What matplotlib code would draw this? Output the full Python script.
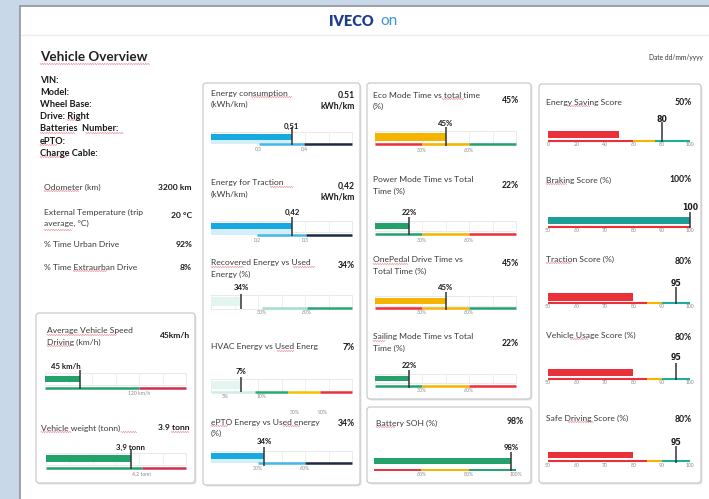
import numpy as np
import matplotlib
matplotlib.use("Agg")
import matplotlib.pyplot as plt
from matplotlib.patches import Rectangle, FancyBboxPatch

plt.rcParams['font.family'] = ['Lato', 'DejaVu Sans']

# ---------------- data ----------------
info_labels = ["VIN:", "Model:", "Wheel Base:", "Drive: Right", "Batteries  Number:", "ePTO:", "Charge Cable:"]
trip_labels = [["Odometer (km)"], ["External Temperature (trip", "average, °C)"], ["% Time Urban Drive"], ["% Time Extraurban Drive"]]
trip_values = ["3200 km", "20 °C", "92%", "8%"]

speed_value = 45
speed_range = (0, 180)
speed_limit = 120
weight_value = 3.9
weight_range = (1.6, 5.4)
weight_limit = 4.2

energy_titles = [["Energy consumption", "(kWh/km)"], ["Energy for Traction", "(kWh/km)"],
                 ["Recovered Energy vs Used", "Energy (%)"], ["HVAC Energy vs Used Energ"],
                 ["ePTO Energy vs Used energy", "(%)"]]
energy_value_text = [["0.51", "kWh/km"], ["0,42", "kWh/km"], ["34%"], ["7%"], ["34%"]]
energy_values = [0.51, 0.42, 34, 7, 34]
energy_labels = ["0,51", "0,42", "34%", "7%", "34%"]
energy_ranges = [(0, 0.89), (0, 0.73), (0, 160), (0, 32.9), (0, 90)]
energy_bounds = [[0.30, 0.59, 0.89], [0.24, 0.49, 0.73], [58, 109, 160], [0, 10.3, 18, 25.4, 32.9], [30, 60, 90]]
energy_tick_pos = [[0.30, 0.59], [0.24, 0.49], [58, 109], [3.3, 11.9], [30, 60]]
energy_tick_labels = [["0,3", "0,4"], ["0,2", "0,3"], ["30%", "60%"], ["5%", "10%"], ["30%", "60%"]]

mode_titles = [["Eco Mode Time vs total time", "(%)"], ["Power Mode Time vs Total", "Time (%)"],
               ["OnePedal Drive Time vs", "Total Time (%)"], ["Sailing Mode Time vs Total", "Time (%)"]]
mode_values = [45, 22, 45, 22]
mode_range = (0, 90)
mode_bounds = [0, 30, 60, 90]
mode_tick_labels = ["30%", "60%"]

soh_value = 98
soh_range = (40, 100)
soh_bounds = [40, 60, 80, 100]
soh_tick_labels = ["60%", "80%", "100%"]

score_titles = ["Energy Saving Score", "Braking Score (%)", "Traction Score (%)",
                "Vehicle Usage Score (%)", "Safe Driving Score (%)"]
score_values = [50, 100, 80, 80, 80]
score_targets = [80, 100, 95, 95, 95]
score_ranges = [(0, 100), (50, 100), (50, 100), (50, 100), (50, 100)]
score_ticks = [[0, 20, 40, 60, 80, 100], [50, 60, 70, 80, 90, 100], [50, 60, 70, 80, 90, 100],
               [50, 60, 70, 80, 90, 100], [50, 60, 70, 80, 90, 100]]
score_bounds = [[0, 60, 75, 100], [50, 100], [50, 85, 90, 100], [50, 85, 90, 100], [50, 85, 90, 100]]

# ---------------- styling ----------------
W, H = 709, 499
GREEN = '#24a26c'
BLUE = '#17a9e1'
LBLUE = '#45b8e8'
NAVY = '#1c2b45'
YELLOW = '#f4b400'
RED = '#ea3038'
CRIMSON = '#cf2f4d'
TEAL = '#1fae9d'
DARK = '#333333'
TXT = '#3a3a3a'
FS = 6.1

fig = plt.figure(figsize=(W / 100, H / 100), dpi=100)
fig.patch.set_facecolor('#c9d8e8')
bg = fig.add_axes([0, 0, 1, 1])
bg.set_xlim(0, W)
bg.set_ylim(H, 0)
bg.axis('off')

bg.add_patch(Rectangle((20, 6), 700, 500, fc='white', ec='#8d9399', lw=1.2))
bg.hlines(35, 21, W, color='#ededed', lw=1)
bg.text(351, 21, 'IVECO', fontsize=10.5, fontweight='heavy', color='#1d3c8c', ha='center', va='center')
bg.text(389, 21, 'on', fontsize=11, fontweight='normal', color='#3f93d2', ha='center', va='center')
bg.text(40, 57, 'Vehicle Overview', fontsize=9.7, fontweight='bold', color='#222222', ha='left', va='center')
bg.text(703, 57, 'Date dd/mm/yyyy', fontsize=4.8, color='#333333', ha='right', va='center')


def squiggle(x0, x1, y):
    xs = np.arange(x0, x1, 1.2)
    ys = y + 0.55 * np.where((np.arange(len(xs)) % 2) == 0, -1, 1)
    bg.plot(xs, ys, color='#e2576a', lw=0.4, alpha=0.85)


def box(x0, y0, x1, y1):
    bg.add_patch(FancyBboxPatch((x0 + 1.5, y0 + 1.5), x1 - x0, y1 - y0,
                                boxstyle='round,pad=0,rounding_size=3', fc='#e6e6e6', ec='none'))
    bg.add_patch(FancyBboxPatch((x0, y0), x1 - x0, y1 - y0,
                                boxstyle='round,pad=0,rounding_size=3', fc='white', ec='#c4c4c4', lw=0.8))


box(36, 313, 195, 483)
box(203, 83, 360, 485)
box(367, 83, 531, 399)
box(367, 407, 531, 483)
box(539, 84, 701, 483)

# left info
for i, lab in enumerate(info_labels):
    bg.text(40, 80 + i * 12.2, lab, fontsize=6.7, fontweight='bold', color='#1a1a1a', ha='left', va='center')
trip_y = [187, 212, 244, 267]
trip_vy = [187, 216, 244, 267]
for lines, y, val, vy in zip(trip_labels, trip_y, trip_values, trip_vy):
    for j, ln in enumerate(lines):
        bg.text(44, y + j * 11, ln, fontsize=FS, color=TXT, ha='left', va='center')
    bg.text(192, vy, val, fontsize=FS, fontweight='bold', color='#1a1a1a', ha='right', va='center')


def px_axes(x0, x1, y0, y1):
    ax = fig.add_axes([x0 / W, 1 - y1 / H, (x1 - x0) / W, (y1 - y0) / H])
    ax.set_ylim(y1, y0)
    ax.axis('off')
    ax.patch.set_alpha(0)
    return ax


def gauge(x0, x1, vrange, value, fill_color, fill_y, marker_y, line_y, label_y, tick_y,
          bounds, colors, tick_pos, tick_labels, label, marker_val=None, label_ha='center',
          track=None, under=None, label_font=None, line_w=1.8, fill_start=None):
    ax = px_axes(x0, x1, label_y - 8, tick_y + 6)
    ax.set_xlim(*vrange)
    vmin, vmax = vrange
    if marker_val is None:
        marker_val = value
    if fill_start is None:
        fill_start = vmin
    if track is not None:
        ax.add_patch(Rectangle((vmin, track[0]), vmax - vmin, track[1] - track[0],
                               fill=False, ec='#e6e6e6', lw=0.6, clip_on=False, zorder=0.5))
        for gx in np.linspace(vmin, vmax, 7)[1:-1]:
            ax.vlines(gx, track[0], track[1], color='#ededed', lw=0.6, zorder=0.5)
    if under is not None:
        ax.barh((fill_y[1] + line_y) / 2, value - fill_start, left=fill_start,
                height=line_y - fill_y[1], color=under, lw=0, zorder=1)
    ax.barh((fill_y[0] + fill_y[1]) / 2, value - fill_start, left=fill_start,
            height=fill_y[1] - fill_y[0], color=fill_color, lw=0, zorder=1)
    for a, b, c in zip(bounds[:-1], bounds[1:], colors):
        ax.hlines(line_y, a, b, color=c, lw=line_w, clip_on=False, zorder=2)
    ax.vlines(marker_val, marker_y[0], marker_y[1], color=DARK, lw=1.1, clip_on=False, zorder=3)
    for p, t in zip(tick_pos, tick_labels):
        ax.text(p, tick_y, t, fontsize=3.7, color='#8a8a8a', ha='center', va='center')
    kw = dict(fontsize=5.6, fontweight='bold', color='#1a1a1a', va='center', ha=label_ha)
    if label_font:
        kw['family'] = label_font
    ax.text(marker_val, label_y, label, **kw)
    return ax


# ---- Box A ----
bg.text(47, 331, 'Average Vehicle Speed', fontsize=FS, color=TXT, va='center')
bg.text(47, 342, 'Driving (km/h)', fontsize=FS, color=TXT, va='center')
bg.text(190, 336, f'{speed_value}km/h', fontsize=FS, fontweight='bold', color='#1a1a1a', ha='right', va='center')
gauge(45, 186, speed_range, speed_value, GREEN, (376, 382), (370, 389), 388, 367, 393,
      [speed_range[0], speed_limit, speed_range[1]], [GREEN, CRIMSON], [speed_limit], [f'{speed_limit} km/h'],
      f'{speed_value} km/h', label_ha='right', track=(373, 385))
bg.text(41, 428, 'Vehicle weight (tonn)', fontsize=FS, color=TXT, va='center')
bg.text(190, 428, '3.9 tonn', fontsize=FS, fontweight='bold', color='#1a1a1a', ha='right', va='center')
gauge(46, 186, weight_range, weight_value, GREEN, (455, 462), (449, 469), 468, 447, 474,
      [weight_range[0], weight_limit, weight_range[1]], [GREEN, CRIMSON], [weight_limit], ['4,2 tonn'],
      '3,9 tonn', track=(453, 465))

# ---- Box B ----
title_y = [93, 183, 263, 347, 422]
val_y = [95, 186, 265, 347, 423]
geo_B = [((134, 140), (127, 145), 144, 126, 149),
         ((223, 229), (217, 236), 235, 212, 240),
         ((297, 306), (294, 309), 308, 288, 313),
         ((381, 389), (377, 392), 392, 372, 397),
         ((453, 459), (447, 466), 463, 442, 469)]
colors_B = [[LBLUE, NAVY], [LBLUE, NAVY], ['#a4dfcc', '#27a874'],
            ['#cdeee5', '#27a874', '#f2c200', RED], [LBLUE, NAVY]]
fills_B = [BLUE, BLUE, '#e3f5f0', '#e3f5f0', BLUE]
unders_B = ['#d3effa', '#d3effa', None, None, '#d3effa']
for k in range(5):
    for j, ln in enumerate(energy_titles[k]):
        bg.text(211, title_y[k] + j * 11, ln, fontsize=FS, color=TXT, va='center')
    for j, ln in enumerate(energy_value_text[k]):
        bg.text(355, val_y[k] + j * 11, ln, fontsize=6.2, fontweight='bold', color='#1a1a1a', ha='right', va='center')
    fy, my, ly, lab_y, ty = geo_B[k]
    gauge(211, 352, energy_ranges[k], energy_values[k], fills_B[k], fy, my, ly, lab_y, ty,
          energy_bounds[k], colors_B[k], energy_tick_pos[k], energy_tick_labels[k], energy_labels[k],
          track=(fy[0] - 2, fy[1] + 3), under=unders_B[k])
bg.text(295, 413, '30%', fontsize=3.7, color='#8a8a8a', ha='center', va='center')
bg.text(323, 412, '90%', fontsize=3.7, color='#8a8a8a', ha='center', va='center')

# ---- Box C ----
mtitle_y = [95, 180, 260, 337]
mval_y = [100, 185, 264, 344]
geo_C = [((133, 141), (127, 146), 144, 123, 150),
         ((223, 229), (217, 235), 234, 212, 240),
         ((298, 304), (292, 310), 308, 288, 313),
         ((376, 381), (370, 388), 386, 366, 391)]
fills_C = [YELLOW, GREEN, YELLOW, GREEN]
colors_C = [[RED, YELLOW, GREEN], [GREEN, YELLOW, RED], [RED, YELLOW, GREEN], [GREEN, YELLOW, RED]]
for k in range(4):
    for j, ln in enumerate(mode_titles[k]):
        bg.text(373, mtitle_y[k] + j * 11, ln, fontsize=FS, color=TXT, va='center')
    bg.text(519, mval_y[k], f'{mode_values[k]}%', fontsize=6.2, fontweight='bold', color='#1a1a1a', ha='right', va='center')
    fy, my, ly, lab_y, ty = geo_C[k]
    gauge(375, 516, mode_range, mode_values[k], fills_C[k], fy, my, ly, lab_y, ty,
          mode_bounds, colors_C[k], mode_bounds[1:3], mode_tick_labels, f'{mode_values[k]}%',
          track=(fy[0] - 2, fy[1] + 2))

# ---- Box D ----
bg.text(376, 423, 'Battery SOH (%)', fontsize=FS, color=TXT, va='center')
bg.text(524, 421, f'{soh_value}%', fontsize=6.2, fontweight='bold', color='#1a1a1a', ha='right', va='center')
gauge(374, 516, soh_range, soh_value, GREEN, (458, 464), (452, 471), 470, 448, 475,
      soh_bounds, [RED, YELLOW, GREEN], soh_bounds[1:], soh_tick_labels, f'{soh_value}%', line_w=1.4)

# ---- Box E ----
stitle_y = [102, 180, 259, 335, 418]
sval_y = [102, 180, 261, 337, 420]
geo_E = [((131, 138), (122, 142), 141, 120, 145),
         ((217, 224), (212, 228), 227, 207, 231),
         ((293, 301), (287, 304), 303, 283, 307),
         ((369, 376), (363, 380), 379, 358, 383),
         ((452, 458), (446, 463), 461, 442, 465)]
colors_E = [[RED, YELLOW, TEAL], [RED], [RED, YELLOW, TEAL], [RED, YELLOW, TEAL], [RED, YELLOW, TEAL]]
fills_E = [RED, '#1a9e96', RED, RED, RED]
for k in range(5):
    bg.text(546, stitle_y[k], score_titles[k], fontsize=FS, color=TXT, va='center')
    bg.text(692, sval_y[k], f'{score_values[k]}%', fontsize=6.2, fontweight='bold', color='#1a1a1a', ha='right', va='center')
    fy, my, ly, lab_y, ty = geo_E[k]
    gauge(548, 690, score_ranges[k], score_values[k], fills_E[k], fy, my, ly, lab_y, ty,
          score_bounds[k], colors_E[k], score_ticks[k], [str(t) for t in score_ticks[k]],
          str(score_targets[k]), marker_val=score_targets[k], label_font='DejaVu Sans', line_w=1.5)

# spell-check squiggles
for x0, x1, y in [(40, 150, 64), (67, 82, 120), (40, 76, 133), (86, 124, 133), (40, 57, 145), (40, 67, 157),
                  (44, 80, 191), (44, 72, 230), (73, 107, 271), (47, 117, 335), (47, 70, 346), (41, 72, 432),
                  (121, 137, 432), (171, 190, 432), (251, 293, 97), (270, 294, 187), (211, 244, 267),
                  (293, 315, 267), (277, 295, 351), (211, 228, 426), (283, 301, 426), (442, 464, 99),
                  (373, 409, 264), (373, 386, 341), (376, 396, 427), (567, 590, 106), (546, 567, 184),
                  (546, 572, 263), (570, 589, 339), (568, 594, 422)]:
    squiggle(x0, x1, y)

fig.savefig('out.png', dpi=100, facecolor=fig.get_facecolor())
